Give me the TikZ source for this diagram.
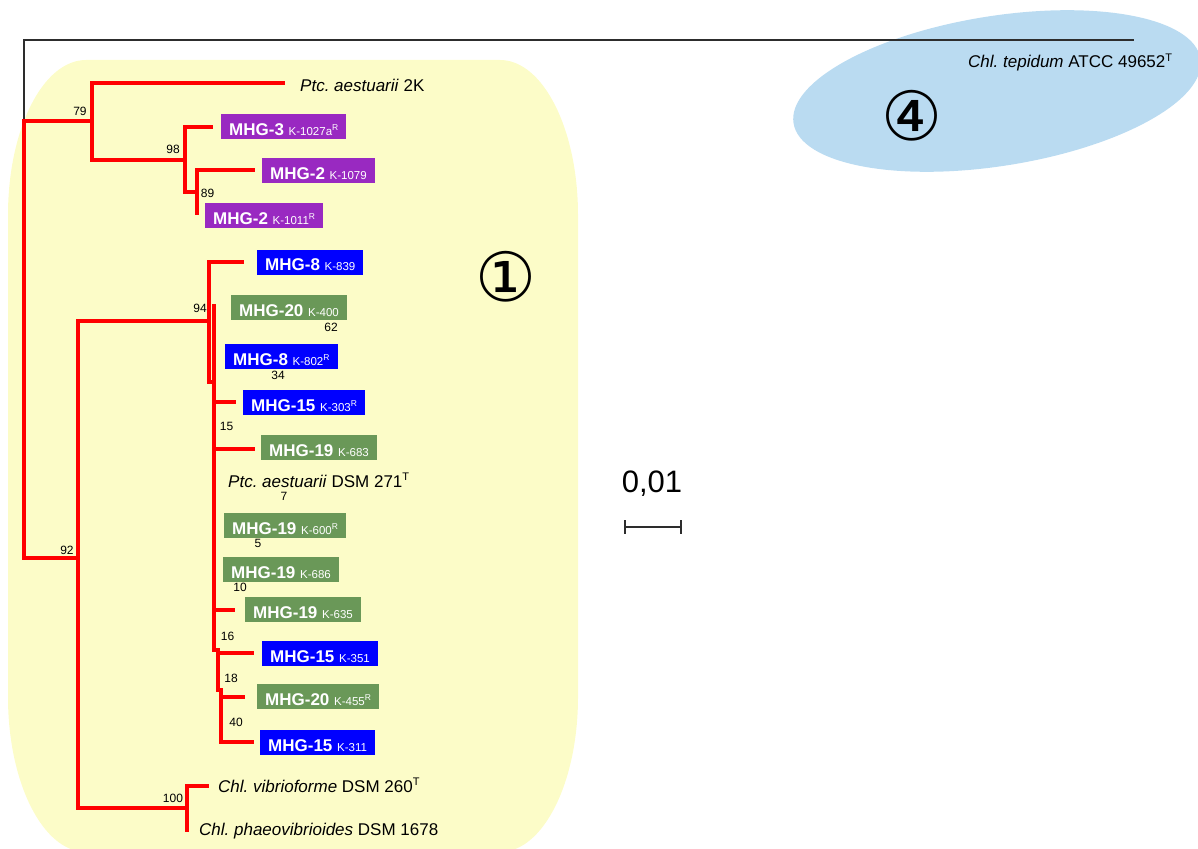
\documentclass[tikz,border=0pt]{standalone}
\usepackage{fontspec}
\setmainfont{Liberation Sans}
\newfontfamily\dejavu{DejaVu Sans}
\frenchspacing
\definecolor{bgyellow}{RGB}{252,252,200}
\definecolor{bgblue}{RGB}{186,219,241}
\definecolor{mhgpurple}{RGB}{153,41,193}
\definecolor{mhgblue}{RGB}{0,0,255}
\definecolor{mhggreen}{RGB}{106,152,88}
\definecolor{treered}{RGB}{255,0,0}
\definecolor{darkline}{RGB}{45,45,45}
\newcommand\mhgtxt[2]{\fontsize{17}{17}\selectfont\bfseries #1 {\fontsize{11.5}{12}\selectfont\mdseries #2}}
\newcommand\supR{\raisebox{4.5pt}{\fontsize{8.5}{9}\selectfont R}}
\newcommand\supT{\raisebox{6.5pt}{\fontsize{11}{11}\selectfont T}}
\begin{document}
\begin{tikzpicture}[x=1pt,y=-1pt,
  br/.style={draw=treered,line width=3.7pt,line cap=rect,line join=miter},
  blk/.style={draw=darkline,line width=1.3pt},
  mhgbox/.style={anchor=west,inner xsep=8pt,inner ysep=0pt,text height=21.4pt,text depth=3.6pt,text=white},
  pbox/.style={mhgbox,fill=mhgpurple},
  bbox/.style={mhgbox,fill=mhgblue},
  gbox/.style={mhgbox,fill=mhggreen},
  taxon/.style={anchor=base west,inner sep=0pt,font=\fontsize{17}{17}\selectfont\frenchspacing},
  bs/.style={inner sep=0pt,font=\fontsize{12}{12}\selectfont},
  circnum/.style={inner sep=0pt,font=\fontsize{68}{68}\selectfont\dejavu}]
\useasboundingbox (0,0) rectangle (1198,848);
% backgrounds
\fill[bgyellow] (86,60) -- (500,60) .. controls (543.1,60) and (578,129.4) .. (578,215)
  -- (578,697) .. controls (578,782.6) and (543.1,852) .. (500,852)
  -- (86,852) .. controls (42.9,852) and (8,782.6) .. (8,697)
  -- (8,215) .. controls (8,129.4) and (42.9,60) .. (86,60) -- cycle;
\fill[bgblue,rotate around={9:(997,91)}] (997,91) ellipse [x radius=206pt,y radius=75pt];
% coordinates
\coordinate (rt) at (24,40);
\coordinate (tip) at (1134,40);
\coordinate (rA) at (24,121);
\coordinate (rD) at (24,558);
\coordinate (A) at (92,121);
\coordinate (lP2K) at (283,83);
\coordinate (B) at (185,160);
\coordinate (lM3) at (211,127);
\coordinate (C) at (197,192);
\coordinate (lM2a) at (253,170);
\coordinate (lM2b) at (197,213);
\coordinate (D) at (78,558);
\coordinate (E) at (209,321);
\coordinate (lM8a) at (242,262);
\coordinate (F) at (214,382);
\coordinate (Ftop) at (214,306);
\coordinate (Fbot) at (214,650);
\coordinate (l303) at (234,402);
\coordinate (l683) at (253,449);
\coordinate (l635) at (233,610);
\coordinate (G) at (218,650);
\coordinate (Gbot) at (218,690);
\coordinate (l351) at (252,653);
\coordinate (H) at (221,690);
\coordinate (l455) at (243,697);
\coordinate (l311) at (252,742);
\coordinate (I) at (187,808);
\coordinate (lvib) at (207,786);
\coordinate (lpha) at (187,830);
% tree
\draw[blk] (rA) -- (rt) -- (tip);
\draw[br] (rA) -- (rD);
\draw[br] (rA) -- (A);
\draw[br] (A) |- (lP2K);
\draw[br] (A) |- (B);
\draw[br] (B) |- (lM3);
\draw[br] (B) |- (C);
\draw[br] (C) |- (lM2a);
\draw[br] (C) -- (lM2b);
\draw[br] (rD) -- (D);
\draw[br] (D) |- (E);
\draw[br] (D) |- (I);
\draw[br] (E) |- (lM8a);
\draw[br] (E) |- (F);
\draw[br] (Ftop) -- (Fbot);
\draw[br] (Ftop) |- (l303);
\draw[br] (Ftop) |- (l683);
\draw[br] (Ftop) |- (l635);
\draw[br] (Fbot) -- (G);
\draw[br] (G) |- (l351);
\draw[br] (G) -- (Gbot);
\draw[br] (Gbot) -- (H);
\draw[br] (H) |- (l455);
\draw[br] (H) |- (l311);
\draw[br] (I) |- (lvib);
\draw[br] (I) -- (lpha);
% taxon labels
\node[taxon] (tP2K) at (300,92) {\textit{Ptc. aestuarii} 2K};
\node[pbox] (n3) at (221,126.5) {\mhgtxt{MHG-3}{K-1027a\supR}};
\node[pbox] (n1079) at (262,170.5) {\mhgtxt{MHG-2}{K-1079}};
\node[pbox] (n1011) at (205,215.5) {\mhgtxt{MHG-2}{K-1011\supR}};
\node[bbox] (n839) at (257,262) {\mhgtxt{MHG-8}{K-839}};
\node[gbox] (n400) at (231,307.5) {\mhgtxt{MHG-20}{K-400}};
\node[bbox] (n802) at (225,356.5) {\mhgtxt{MHG-8}{K-802\supR}};
\node[bbox] (n303) at (243,402.5) {\mhgtxt{MHG-15}{K-303\supR}};
\node[gbox] (n683) at (261,447.5) {\mhgtxt{MHG-19}{K-683}};
\node[taxon] (tP271) at (228,487) {\textit{Ptc. aestuarii} DSM 271\supT};
\node[gbox] (n600) at (224,525.5) {\mhgtxt{MHG-19}{K-600\supR}};
\node[gbox] (n686) at (223,569.5) {\mhgtxt{MHG-19}{K-686}};
\node[gbox] (n635) at (245,609.5) {\mhgtxt{MHG-19}{K-635}};
\node[bbox] (n351) at (262,653.5) {\mhgtxt{MHG-15}{K-351}};
\node[gbox] (n455) at (257,696.5) {\mhgtxt{MHG-20}{K-455\supR}};
\node[bbox] (n311) at (260,742.5) {\mhgtxt{MHG-15}{K-311}};
\node[taxon] (tvib) at (218,792) {\textit{Chl. vibrioforme} DSM 260\supT};
\node[taxon] (tpha) at (199,835) {\textit{Chl. phaeovibrioides} DSM 1678};
\node[taxon] (ttep) at (968,67.7) {\textit{Chl. tepidum} ATCC 49652\supT};
% bootstrap values
\node[bs] (b79) at (80,111.5) {79};
\node[bs] (b98) at (173,149.5) {98};
\node[bs] (b89) at (207.5,193.5) {89};
\node[bs] (b94) at (200,308) {94};
\node[bs] (b62) at (331,327) {62};
\node[bs] (b34) at (278,375) {34};
\node[bs] (b15) at (226.5,426.5) {15};
\node[bs] (b7) at (284,496) {7};
\node[bs] (b5) at (258,543) {5};
\node[bs] (b10) at (240,587) {10};
\node[bs] (b16) at (227.5,636.5) {16};
\node[bs] (b18) at (231,678.5) {18};
\node[bs] (b40) at (236,722.5) {40};
\node[bs] (b100) at (173,798.5) {100};
\node[bs] (b92) at (67,550.5) {92};
% group numbers
\node[circnum] (g1) at (506,277) {①};
\node[circnum] (g4) at (912,116) {④};
% scale bar
\node[inner sep=0pt,font=\fontsize{31}{31}\selectfont] (sclab) at (652,483.5) {0,01};
\coordinate (sbL) at (625,527);
\coordinate (sbR) at (681,527);
\coordinate (sbLt) at (625,520);
\coordinate (sbLb) at (625,534);
\coordinate (sbRt) at (681,520);
\coordinate (sbRb) at (681,534);
\draw[blk,line width=1.5pt] (sbL) -- (sbR);
\draw[blk,line width=1.5pt] (sbLt) -- (sbLb);
\draw[blk,line width=1.5pt] (sbRt) -- (sbRb);
\end{tikzpicture}
\end{document}
